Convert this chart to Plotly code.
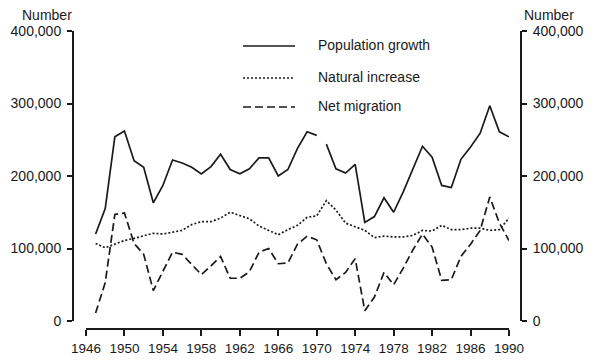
import plotly.graph_objects as go

# ----------------------------
# Data
# ----------------------------
years = list(range(1947, 1991))

population_growth = [
    120000, 155000, 254000, 262000, 221000, 212000, 163000, 187000, 222000, 218000,
    212000, 203000, 213000, 230000, 209000, 203000, 210000, 225000, 225000, 200000,
    209000, 238000, 261000, 256000, 244000, 210000, 204000, 216000, 136000, 144000,
    170000, 150000, 178000, 210000, 241000, 226000, 187000, 184000, 223000, 240000,
    259000, 297000, 261000, 254000,
]

natural_increase = [
    107000, 101000, 106000, 111000, 114000, 118000, 121000, 120000, 122000, 125000,
    133000, 137000, 137000, 142000, 150000, 145000, 141000, 131000, 125000, 119000,
    126000, 132000, 143000, 145000, 166000, 153000, 135000, 130000, 125000, 115000,
    117000, 116000, 116000, 118000, 125000, 124000, 132000, 126000, 126000, 128000,
    128000, 125000, 126000, 142000,
]

net_migration = [
    11000, 53000, 147000, 149000, 107000, 92000, 42000, 68000, 95000, 92000,
    78000, 64000, 76000, 89000, 59000, 59000, 68000, 95000, 100000, 79000,
    80000, 106000, 117000, 112000, 79000, 57000, 67000, 86000, 14000, 33000,
    67000, 50000, 73000, 98000, 120000, 102000, 56000, 57000, 89000, 106000,
    125000, 171000, 135000, 111000,
]

# population series has a break between 1970 and 1971
break_idx = years.index(1971)

legend_labels = ['Population growth', 'Natural increase', 'Net migration']

# ----------------------------
# Layout geometry (pixels)
# ----------------------------
W, H = 599, 364
L, R, T, B = 73, 521, 31, 329          # outer frame where the axis lines sit
X0, X1 = 86, 509                       # x data span
Y0 = 321                               # y=0 level

def px(x):
    return (x - L) / (R - L)

def py(y):
    return (B - y) / (B - T)

FONT = 'Liberation Sans, Arial, sans-serif'
INK = '#1a1a1a'
SOLID = 'solid'
DOT = '2px,2px'
DASH = '8px,4px'

fig = go.Figure()

line_style = dict(color=INK, width=1.7)

fig.add_trace(go.Scatter(
    x=years[:break_idx], y=population_growth[:break_idx],
    mode='lines', line=dict(**line_style, dash=SOLID), showlegend=False
))
fig.add_trace(go.Scatter(
    x=years[break_idx:], y=population_growth[break_idx:],
    mode='lines', line=dict(**line_style, dash=SOLID), showlegend=False
))
fig.add_trace(go.Scatter(
    x=years, y=natural_increase,
    mode='lines', line=dict(**line_style, dash=DOT), showlegend=False
))
fig.add_trace(go.Scatter(
    x=years, y=net_migration, yaxis='y2',
    mode='lines', line=dict(**line_style, dash=DASH), showlegend=False
))

# ----------------------------
# Hand-drawn legend
# ----------------------------
legend_rows = [46, 78, 107]
for label, dash, row in zip(legend_labels, [SOLID, DOT, DASH], legend_rows):
    fig.add_shape(
        type='line', xref='paper', yref='paper',
        x0=px(243), x1=px(295), y0=py(row), y1=py(row),
        line=dict(color=INK, width=1.4, dash=dash)
    )
    fig.add_annotation(
        x=px(316), y=py(row - 1), xref='paper', yref='paper',
        text=label, showarrow=False, xanchor='left', yanchor='middle',
        font=dict(family=FONT, size=14, color=INK)
    )

# "Number" unit labels
fig.add_annotation(x=px(74), y=py(15), xref='paper', yref='paper', text='Number',
                   showarrow=False, xanchor='right', yanchor='middle',
                   font=dict(family=FONT, size=14, color=INK))
fig.add_annotation(x=px(522), y=py(15), xref='paper', yref='paper', text='Number',
                   showarrow=False, xanchor='left', yanchor='middle',
                   font=dict(family=FONT, size=14, color=INK))

yaxis_common = dict(
    range=[0, 400000], dtick=100000, tickformat=',',
    domain=[py(Y0), 1], anchor='free', automargin=False,
    showline=True, linecolor=INK, linewidth=2,
    ticks='outside', ticklen=5, tickwidth=1.5, tickcolor=INK,
    ticklabelstandoff=3,
    showgrid=False, zeroline=False,
    tickfont=dict(family=FONT, size=14, color=INK),
    fixedrange=True,
)

fig.update_layout(
    width=W, height=H, autosize=False,
    margin=dict(l=L, r=W - R, t=T, b=H - B, pad=0),
    plot_bgcolor='white', paper_bgcolor='white',
    font=dict(family=FONT, color=INK),
    showlegend=False,
    xaxis=dict(
        range=[1946, 1990], domain=[px(X0), px(X1)],
        anchor='free', position=0, automargin=False,
        tick0=1946, dtick=4,
        showline=True, linecolor=INK, linewidth=2,
        ticks='outside', ticklen=6, tickwidth=1.5, tickcolor=INK,
        ticklabelstandoff=1,
        showgrid=False, zeroline=False,
        tickfont=dict(family=FONT, size=13.5, color=INK),
        fixedrange=True,
    ),
    yaxis=dict(**yaxis_common, side='left', position=0),
    yaxis2=dict(**yaxis_common, side='right', position=1, overlaying='y', matches='y'),
)

# page body has a default margin; drop it so the figure sits at the window origin
fig.write_html('out.html', config={'displayModeBar': False},
               post_script="document.body.style.margin='0';")
